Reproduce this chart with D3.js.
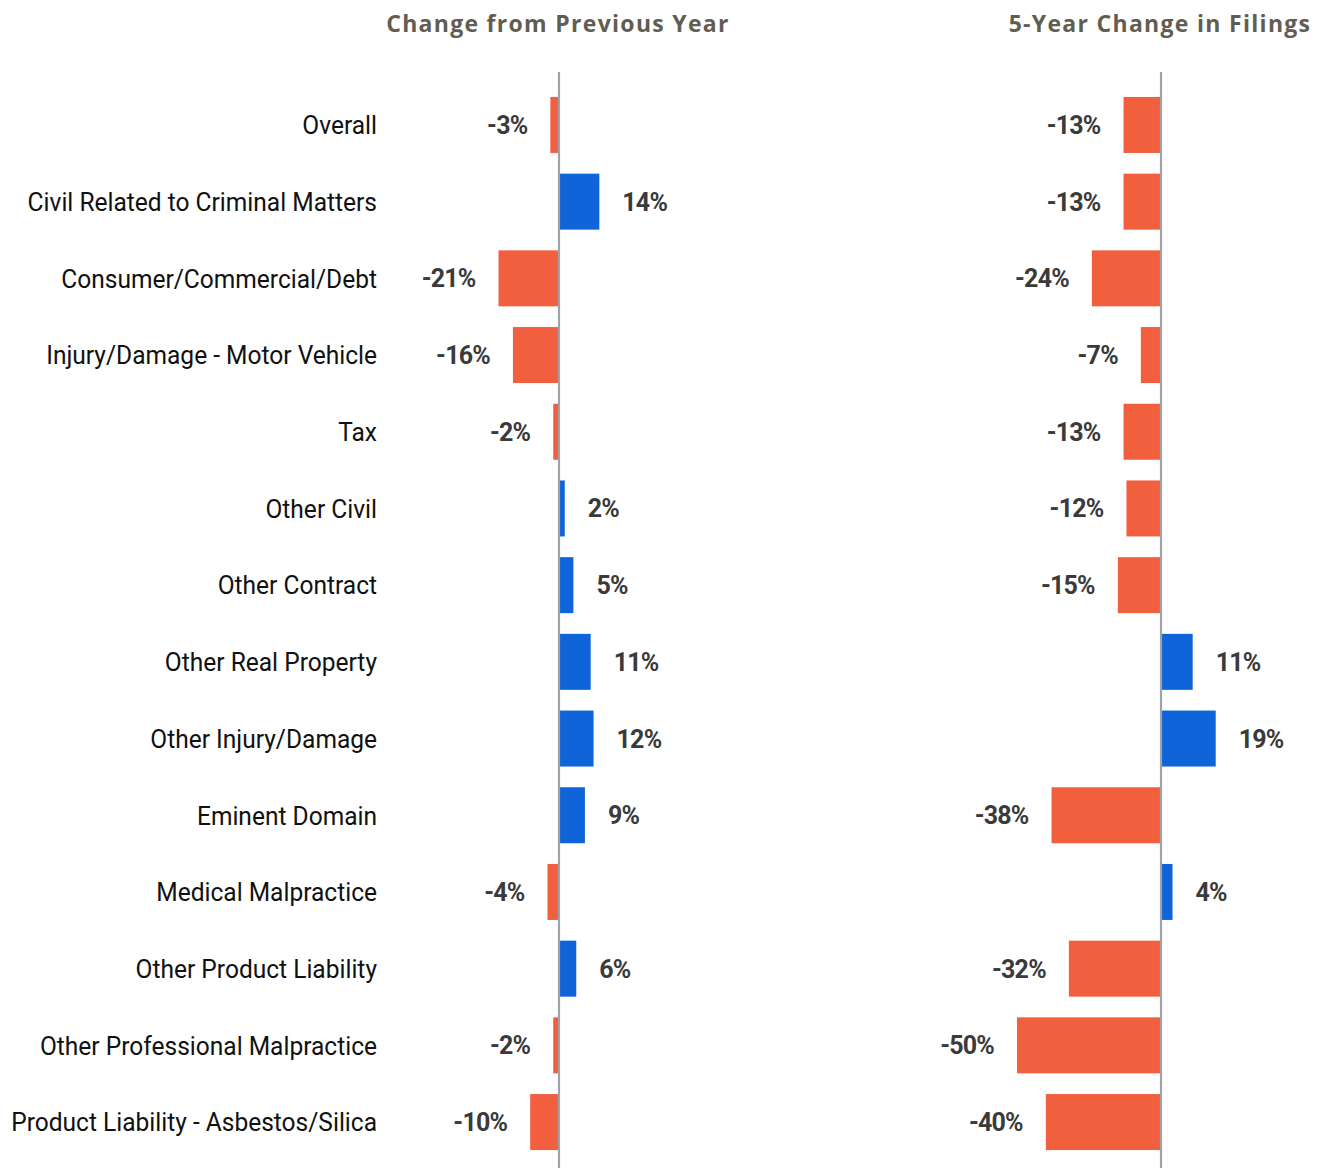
<!DOCTYPE html>
<html><head><meta charset="utf-8">
<script src="https://cdn.jsdelivr.net/npm/d3@7"></script>
<style>body{margin:0;background:#fff}</style>
</head><body>
<svg id="c" width="1317" height="1168"></svg>
<script>
const categories = ["Overall","Civil Related to Criminal Matters","Consumer/Commercial/Debt","Injury/Damage - Motor Vehicle","Tax","Other Civil","Other Contract","Other Real Property","Other Injury/Damage","Eminent Domain","Medical Malpractice","Other Product Liability","Other Professional Malpractice","Product Liability - Asbestos/Silica"];
const changePrevYear = [-3,14,-21,-16,-2,2,5,11,12,9,-4,6,-2,-10];
const change5Year = [-13,-13,-24,-7,-13,-12,-15,11,19,-38,4,-32,-50,-40];
const panelTitles = ["Change from Previous Year","5-Year Change in Filings"];

const svg = d3.select("#c");
const W = 1317, H = 1168;
const ORANGE = "#f25f3f", BLUE = "#0f64d9";
const y = d3.scaleBand().domain(categories).range([86.6,1160.4]).paddingInner(0.27).paddingOuter(0.135);

// category labels (condensed look via horizontal scaling)
const labG = svg.append("g");
const labs = labG.selectAll("text").data(categories).join("text")
  .attr("x",0).attr("y",d=>y(d)+y.bandwidth()/2)
  .attr("dy","0.36em").attr("text-anchor","end")
  .attr("font-family","Roboto,sans-serif")
  .attr("font-size",26).attr("fill","#111")
  .text(d=>d);
const longest = d3.max(labs.nodes(), n=>n.getComputedTextLength());
const sx = 366/longest;
labG.attr("transform",`translate(377,0) scale(${sx},1)`);

function panel(values, zeroX, title, titleX){
  const x = d3.scaleLinear().domain([-50,50]).range([zeroX-144, zeroX+144]);
  const g = svg.append("g");
  g.append("text").attr("x",titleX).attr("y",24).attr("dy","0.35em").attr("text-anchor","middle")
    .attr("font-family","'Open Sans',Inter,sans-serif").attr("font-weight",700).attr("font-size",23)
    .attr("letter-spacing","1.3")
    .attr("fill","#625d52").text(title);
  g.selectAll("rect").data(values).join("rect")
    .attr("x",(d)=>x(Math.min(0,d)))
    .attr("width",d=>Math.abs(x(d)-x(0)))
    .attr("y",(d,i)=>y(categories[i]))
    .attr("height",y.bandwidth())
    .attr("fill",d=>d<0?ORANGE:BLUE);
  g.append("line").attr("x1",x(0)).attr("x2",x(0)).attr("y1",72).attr("y2",H)
    .attr("stroke","#9ea3a9").attr("stroke-width",2.2);
  g.selectAll("text.v").data(values).join("text").attr("class","v")
    .attr("x",d=>d<0?x(d)-23:x(d)+23)
    .attr("y",(d,i)=>y(categories[i])+y.bandwidth()/2)
    .attr("dy","0.36em").attr("text-anchor",d=>d<0?"end":"start")
    .attr("font-family","Roboto,sans-serif").attr("font-weight",700).attr("font-size",25)
    .attr("fill","#3a3a3a").attr("letter-spacing","-0.8")
    .text(d=>d+"%");
}
panel(changePrevYear, 559, panelTitles[0], 558);
panel(change5Year, 1161, panelTitles[1], 1160);
</script>
</body></html>
